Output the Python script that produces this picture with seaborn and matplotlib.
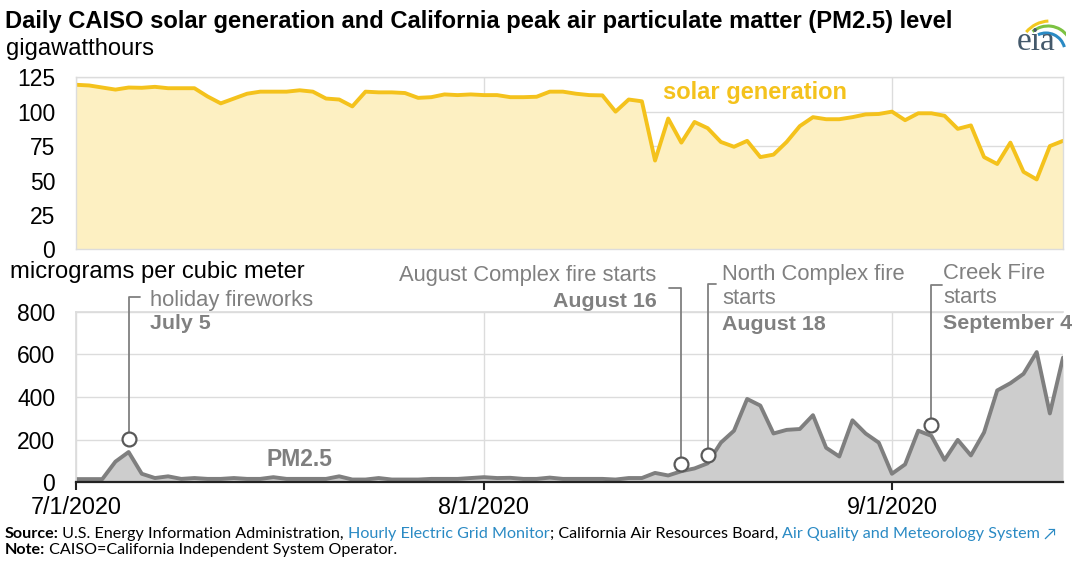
import numpy as np
import pandas as pd
import matplotlib
matplotlib.use("Agg")
import matplotlib.pyplot as plt
from matplotlib.patches import Arc
import seaborn as sns

# daily values, 7/1/2020 - 9/14/2020
start_date = "2020-07-01"
end_date = "2020-09-14"

solar_gwh = [119.5, 119, 117.5, 116, 117.5, 117.3, 118, 117, 117, 117,
             111, 106, 109.5, 113, 114.5, 114.5, 114.5, 115.5, 114.5, 109.5,
             108.8, 103.8, 114.5, 114, 114, 113.5, 110, 110.5, 112.5, 112,
             112.5, 112, 112, 110.5, 110.5, 110.8, 114.5, 114.5, 113, 112,
             111.8, 100, 108.8, 107.5, 64.5, 95, 77.5, 92.5, 88, 78,
             74.5, 78.8, 67, 68.8, 78, 89.5, 96, 94.5, 94.5, 96,
             98, 98.3, 100, 93.8, 98.8, 98.8, 97, 87.5, 90, 67,
             62, 77.5, 56.3, 50.8, 75, 78.8]

pm25 = [15, 15, 15, 97, 142, 40, 20, 28, 16, 20,
        16, 16, 20, 16, 16, 24, 16, 16, 16, 16,
        28, 13, 13, 20, 13, 13, 13, 16, 16, 16,
        20, 24, 20, 21, 16, 16, 22, 16, 16, 16,
        16, 13, 20, 20, 44, 32, 52, 65, 89, 186,
        242, 391, 360, 229, 246, 250, 315, 162, 121, 291,
        229, 186, 40, 84, 242, 218, 105, 199, 126, 234,
        431, 465, 509, 611, 323, 585]

tick_dates = ["2020-07-01", "2020-08-01", "2020-09-01"]
tick_labels = ["7/1/2020", "8/1/2020", "9/1/2020"]
solar_ticks = [0, 25, 50, 75, 100, 125]
pm_ticks = [0, 200, 400, 600, 800]

event_dates = ["2020-07-05", "2020-08-16", "2020-08-18", "2020-09-04"]
event_marker_values = [203, 88, 128, 268]
event_leader_tops = [869, 912, 929, 924]
event_text = [["holiday fireworks"], ["August Complex fire starts"],
              ["North Complex fire", "starts"], ["Creek Fire", "starts"]]
event_bold = ["July 5", "August 16", "August 18", "September 4"]

dates = pd.date_range(start_date, end_date, freq="D")
df = pd.DataFrame({"date": dates, "solar": solar_gwh, "pm25": pm25})

SOLAR = "#F4C21C"
SOLAR_FILL = "#FDF0C2"
PM = "#7f7f7f"
PM_FILL = "#cdcdcd"
GRID = "#dcdcdc"
ANN = "#808080"

sns.set_theme(style="white")
plt.rcParams["font.family"] = ["Liberation Sans", "DejaVu Sans"]

fig = plt.figure(figsize=(10.73, 5.61), dpi=100)
ax1 = fig.add_axes([0.0708, 0.5554, 0.9199, 0.307])
ax2 = fig.add_axes([0.0708, 0.1403, 0.9199, 0.3039])

day = pd.Timedelta(days=1)
xlim = (dates[0], dates[-1])
xticks = pd.to_datetime(tick_dates)

# ---- solar generation panel
ax1.fill_between(df["date"], df["solar"], color=SOLAR_FILL, lw=0)
sns.lineplot(data=df, x="date", y="solar", ax=ax1, color=SOLAR, lw=2.8)
ax1.set_xlim(*xlim)
ax1.set_ylim(0, 125)
ax1.set_yticks(solar_ticks)
ax1.set_xticks(xticks)
ax1.set_xticklabels([])
ax1.grid(True, color=GRID, lw=1)
ax1.tick_params(axis="both", length=0)
ax1.tick_params(axis="y", labelsize=16.5, pad=15, colors="black")
for s in ax1.spines.values():
    s.set_color(GRID)
    s.set_linewidth(1)
ax1.set_xlabel("")
ax1.set_ylabel("")
ax1.text(dates[0] + 51.6 * day, 113.6, "solar generation", color=SOLAR,
         fontsize=17, fontweight="bold", ha="center", va="center")

# ---- PM2.5 panel
ax2.fill_between(df["date"], df["pm25"], color=PM_FILL, lw=0, zorder=1.6)
sns.lineplot(data=df, x="date", y="pm25", ax=ax2, color=PM, lw=2.8, zorder=2)
ax2.set_xlim(*xlim)
ax2.set_ylim(0, 800)
ax2.set_yticks(pm_ticks)
ax2.set_xticks(xticks)
ax2.set_xticklabels(tick_labels)
ax2.grid(True, color=GRID, lw=1)
ax2.tick_params(axis="y", length=0, labelsize=16.5, pad=15, colors="black")
ax2.tick_params(axis="x", direction="out", length=6, width=1.5, color="#222222",
                labelsize=16.8, pad=4, labelcolor="black", bottom=True)
ax2.spines["right"].set_visible(False)
ax2.spines["top"].set_color(GRID)
ax2.spines["left"].set_color(GRID)
ax2.spines["bottom"].set_color("#222222")
ax2.spines["bottom"].set_linewidth(1.6)
ax2.spines["bottom"].set_zorder(3)
ax2.set_xlabel("")
ax2.set_ylabel("")
ax2.text(dates[0] + 17 * day, 105, "PM2.5", color=PM, fontsize=16.5,
         fontweight="bold", ha="center", va="center", zorder=4)

# event call-outs: circle, leader line, labels
hook = [0.85, -0.95, 0.6, 0.8]
text_x = [5.62, 44.1, 49.1, 65.9]
text_ha = ["left", "right", "left", "left"]
text_y = [829, 944, 949, 955]
line_step = 112
bold_y = [719, 823, 713, 720]
for i, d in enumerate(pd.to_datetime(event_dates)):
    top = event_leader_tops[i]
    ax2.plot([d, d, d + hook[i] * day], [event_marker_values[i], top, top],
             color=ANN, lw=1.3, clip_on=False, zorder=5)
    ax2.plot([d], [event_marker_values[i]], marker="o", ms=10, mfc="white",
             mec="#595959", mew=1.6, clip_on=False, zorder=6)
    tx = dates[0] + text_x[i] * day
    for k, line in enumerate(event_text[i]):
        ax2.text(tx, text_y[i] - k * line_step, line, color=ANN, fontsize=15.8,
                 ha=text_ha[i], va="baseline")
    ax2.text(tx, bold_y[i], event_bold[i], color=ANN, fontsize=15.4,
             fontweight="bold", ha=text_ha[i], va="baseline")

# ---- titles and units
fig.text(0.005, 0.9496, "Daily CAISO solar generation and California peak air particulate matter (PM2.5) level",
         fontsize=17.1, fontweight="bold", color="black", va="baseline")
fig.text(0.006, 0.902, "gigawatthours", fontsize=17.1, color="black", va="baseline")
fig.text(0.009, 0.504, "micrograms per cubic meter", fontsize=17.1, color="black", va="baseline")

# ---- source / note lines
src_font = ["Lato", "DejaVu Sans"]
LINK = "#2a8ac4"
source_parts = [("Source:", "black", "bold"),
                (" U.S. Energy Information Administration, ", "black", "normal"),
                ("Hourly Electric Grid Monitor", LINK, "normal"),
                ("; California Air Resources Board, ", "black", "normal"),
                ("Air Quality and Meteorology System", LINK, "normal"),
                (" \u2197", LINK, "normal")]
note_parts = [("Note:", "black", "bold"),
              (" CAISO=California Independent System Operator.", "black", "normal")]

for parts, y in [(source_parts, 0.0404), (note_parts, 0.0125)]:
    prev = None
    for txt, col, wt in parts:
        if prev is None:
            prev = fig.text(0.004, y, txt, color=col, fontweight=wt, fontsize=11.6,
                            family=src_font, va="baseline")
        else:
            prev = ax2.annotate(txt, xy=(1, 0), xycoords=prev, color=col,
                                fontweight=wt, fontsize=11.6, family=src_font,
                                va="bottom", ha="left", annotation_clip=False)

# ---- eia logo
logo = fig.add_axes([1010 / 1073, 1 - 56 / 561, 56 / 1073, 46 / 561])
logo.set_xlim(1010, 1066)
logo.set_ylim(56, 10)
logo.axis("off")
logo.text(1036, 50, "eia", family=["Liberation Serif", "DejaVu Serif"],
          fontsize=24, color="#44596b", ha="center", va="baseline")
logo.add_patch(Arc((1050, 52), 62, 62, theta1=-140, theta2=-93, color="#f2c81f", lw=2.2))
logo.add_patch(Arc((1048, 50), 48, 48, theta1=-130, theta2=-35, color="#7cc242", lw=2.2))
logo.add_patch(Arc((1046, 52), 38, 38, theta1=-115, theta2=-15, color="#2a8ac4", lw=2.2))

fig.savefig("out.png", dpi=100)
